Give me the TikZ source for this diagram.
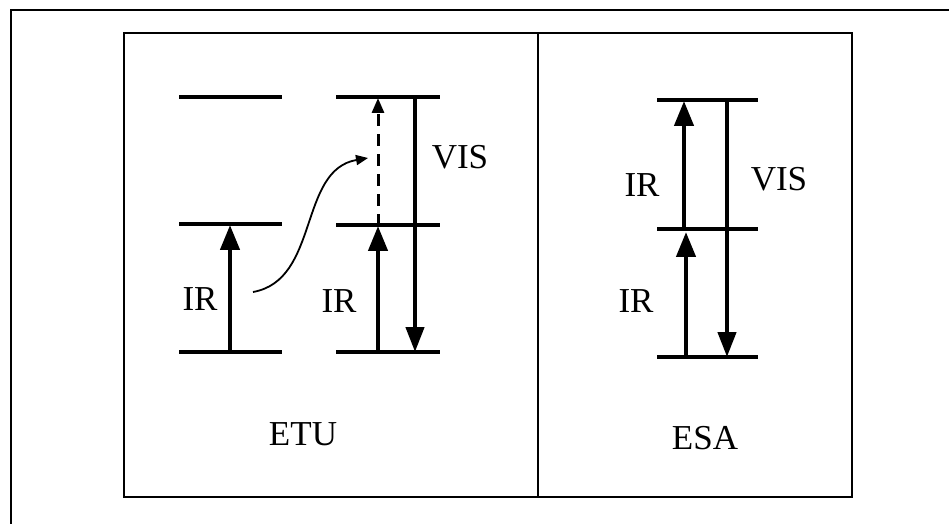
\documentclass[tikz,border=0pt]{standalone}
\usepackage{fontspec}
\setmainfont{Liberation Serif}
\usetikzlibrary{arrows.meta}
\tikzset{
  frame/.style={line width=1pt},
  lvl/.style={line width=1.7pt},
  pump/.style={line width=2.2pt, -{Triangle[length=12.5pt,width=9.5pt]}},
  emit/.style={line width=2.2pt, -{Triangle[length=12.5pt,width=9pt]}},
  transfer/.style={line width=1.5pt, dash pattern=on 6pt off 4pt, -{Triangle[length=7.5pt,width=6pt]}},
  hop/.style={line width=0.9pt, -{Triangle[length=6pt,width=5pt]}},
  lbl/.style={font=\fontsize{17.5}{20}\selectfont, inner sep=0pt}}

\begin{document}
\begin{tikzpicture}[x=0.5pt, y=-0.5pt]
  \useasboundingbox (0,0) rectangle (949,524);
  % frames
  \draw[frame] (949,10) -- (11,10) -- (11,524);
  \draw[frame] (124,33) rectangle (852,497);
  \draw[frame] (538,33) -- (538,497);
  % ETU: levels of the donor ion
  \coordinate (d0w) at (179,352); \coordinate (d0e) at (282,352);
  \coordinate (d1w) at (179,224); \coordinate (d1e) at (282,224);
  \coordinate (d2w) at (179,97);  \coordinate (d2e) at (282,97);
  % ETU: levels of the acceptor ion
  \coordinate (a0w) at (336,352); \coordinate (a0e) at (440,352);
  \coordinate (a1w) at (336,225); \coordinate (a1e) at (440,225);
  \coordinate (a2w) at (336,97);  \coordinate (a2e) at (440,97);
  \draw[lvl] (d0w) -- (d0e); \draw[lvl] (d1w) -- (d1e); \draw[lvl] (d2w) -- (d2e);
  \draw[lvl] (a0w) -- (a0e); \draw[lvl] (a1w) -- (a1e); \draw[lvl] (a2w) -- (a2e);
  \coordinate (dIRlo) at (230,352); \coordinate (dIRhi) at (230,225);
  \coordinate (aIRlo) at (378,352); \coordinate (aIRhi) at (378,226);
  \coordinate (aUPhi) at (378,98);
  \coordinate (aVIShi) at (415,97); \coordinate (aVISlo) at (415,352);
  \coordinate (hopA) at (253,292); \coordinate (hopB) at (368,158);
  \draw[pump] (dIRlo) -- (dIRhi);
  \draw[pump] (aIRlo) -- (aIRhi);
  \draw[transfer] (aIRhi) -- (aUPhi);
  \draw[emit] (aVIShi) -- (aVISlo);
  \draw[hop] (hopA) .. controls (320,280) and (298,170) .. (hopB);
  \node[lbl] (irD) at (200,299) {IR};
  \node[lbl] (irA) at (339,301) {IR};
  \node[lbl] (visA) at (460,157) {VIS};
  \node[lbl] (etu) at (303,434) {ETU};
  % ESA: one ion
  \coordinate (e0w) at (657,357); \coordinate (e0e) at (758,357);
  \coordinate (e1w) at (657,229); \coordinate (e1e) at (758,229);
  \coordinate (e2w) at (657,100); \coordinate (e2e) at (758,100);
  \draw[lvl] (e0w) -- (e0e); \draw[lvl] (e1w) -- (e1e); \draw[lvl] (e2w) -- (e2e);
  \coordinate (eIRlo) at (686,357); \coordinate (eIRmid) at (686,232);
  \coordinate (eIR2lo) at (684,229); \coordinate (eIR2hi) at (684,101);
  \coordinate (eVIShi) at (727,100); \coordinate (eVISlo) at (727,357);
  \draw[pump] (eIRlo) -- (eIRmid);
  \draw[pump] (eIR2lo) -- (eIR2hi);
  \draw[emit] (eVIShi) -- (eVISlo);
  \node[lbl] (irE1) at (636,301) {IR};
  \node[lbl] (irE2) at (642,185) {IR};
  \node[lbl] (visE) at (779,179) {VIS};
  \node[lbl] (esa) at (705,438) {ESA};
\end{tikzpicture}
\end{document}
